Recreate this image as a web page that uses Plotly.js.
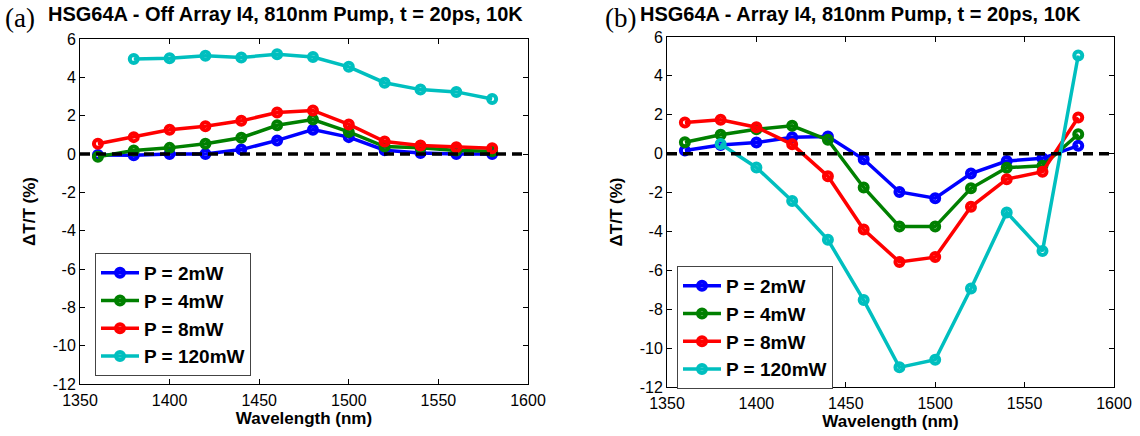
<!DOCTYPE html>
<html>
<head>
<meta charset="utf-8">
<script src="https://cdn.plot.ly/plotly-3.0.1.min.js"></script>
<style>html,body{margin:0;padding:0;background:#fff}#chart{width:1140px;height:436px}</style>
</head>
<body>
<div id="chart"></div>
<script>
// ---- data ----
const wavelength = [1360, 1380, 1400, 1420, 1440, 1460, 1480, 1500, 1520, 1540, 1560, 1580];
const seriesNames = ["P = 2mW", "P = 4mW", "P = 8mW", "P = 120mW"];

// (a) Off Array I4
const offP2   = [-0.05, -0.07, 0.0, 0.0, 0.23, 0.71, 1.27, 0.88, 0.2, 0.05, 0.0, 0.0];
const offP4   = [-0.14, 0.18, 0.32, 0.53, 0.85, 1.5, 1.8, 1.15, 0.39, 0.32, 0.18, 0.14];
const offP8   = [0.53, 0.88, 1.27, 1.45, 1.73, 2.16, 2.27, 1.54, 0.65, 0.44, 0.35, 0.3];
const offP120 = [null, 4.96, 5.0, 5.13, 5.04, 5.2, 5.06, 4.55, 3.72, 3.36, 3.24, 2.87];

// (b) Array I4
const onP2   = [0.16, 0.45, 0.57, 0.84, 0.88, -0.29, -1.97, -2.29, -1.02, -0.38, -0.24, 0.41];
const onP4   = [0.59, 0.97, 1.26, 1.43, 0.71, -1.74, -3.75, -3.75, -1.78, -0.72, -0.62, 1.0];
const onP8   = [1.6, 1.74, 1.36, 0.48, -1.16, -3.9, -5.57, -5.32, -2.73, -1.31, -0.93, 1.86];
const onP120 = [null, 0.5, -0.71, -2.43, -4.43, -7.53, -10.99, -10.6, -6.94, -3.02, -5.01, 5.05];

const yTicks = [6, 4, 2, 0, -2, -4, -6, -8, -10, -12];
const xTicks = [1350, 1400, 1450, 1500, 1550, 1600];

const colors = ["#0000FF", "#008000", "#FF0000", "#00BFBF"];

const leftSeries = [offP2, offP4, offP8, offP120];
const rightSeries = [onP2, onP4, onP8, onP120];

const traces = [];
function addTraces(seriesList, xa, ya, legendId) {
  seriesList.forEach((ys, i) => {
    traces.push({
      type: "scatter", mode: "lines+markers",
      x: wavelength, y: ys, xaxis: xa, yaxis: ya,
      name: seriesNames[i], legend: legendId, legendgroup: legendId + i,
      line: {color: colors[i], width: 3.5},
      marker: {symbol: "circle-open", size: 8, color: colors[i], line: {color: colors[i], width: 4}},
      connectgaps: false
    });
  });
}
addTraces(leftSeries, "x", "y", "legend");
addTraces(rightSeries, "x2", "y2", "legend2");

const tickFont = {family: "Liberation Sans, Arial, sans-serif", size: 16, color: "#000"};
const titleFont = {family: "Liberation Sans, Arial, sans-serif", size: 17, color: "#000", weight: "bold"};

function xAxis(domain, anchor) {
  return {
    domain: domain, anchor: anchor, range: [1350, 1600],
    tickvals: xTicks, ticktext: xTicks.map(String),
    ticks: "inside", ticklen: 5, tickwidth: 1, tickcolor: "#000",
    showline: true, linecolor: "#000", linewidth: 1, mirror: "ticks",
    showgrid: false, zeroline: false, tickfont: tickFont, ticklabelstandoff: 2,
    title: {text: "Wavelength (nm)", font: titleFont, standoff: 3},
    automargin: false
  };
}
function yAxis(domain, anchor) {
  return {
    domain: domain, anchor: anchor, range: [-12, 6],
    tickvals: yTicks, ticktext: yTicks.map(String),
    ticks: "inside", ticklen: 5, tickwidth: 1, tickcolor: "#000",
    showline: true, linecolor: "#000", linewidth: 1, mirror: "ticks",
    showgrid: false, zeroline: false, tickfont: tickFont,
    title: {text: "ΔT/T (%)", font: titleFont, standoff: 12},
    automargin: false
  };
}

const W = 1140, H = 436;
const legendFont = {family: "Liberation Sans, Arial, sans-serif", size: 19, color: "#000", weight: "bold"};

const layout = {
  width: W, height: H,
  margin: {l: 0, r: 0, t: 0, b: 0},
  paper_bgcolor: "#fff", plot_bgcolor: "#fff",
  xaxis: xAxis([80 / W, 528 / W], "y"),
  yaxis: yAxis([1 - 384 / H, 1 - 39 / H], "x"),
  xaxis2: xAxis([667 / W, 1114 / W], "y2"),
  yaxis2: yAxis([1 - 387 / H, 1 - 37 / H], "x2"),
  legend: {
    x: 95 / W, y: 1 - 253 / H, xanchor: "left", yanchor: "top",
    bgcolor: "#fff", bordercolor: "#444", borderwidth: 1,
    font: legendFont, tracegroupgap: 0, itemwidth: 38
  },
  legend2: {
    x: 677 / W, y: 1 - 266 / H, xanchor: "left", yanchor: "top",
    bgcolor: "#fff", bordercolor: "#444", borderwidth: 1,
    font: legendFont, tracegroupgap: 0, itemwidth: 38
  },
  shapes: [
    {type: "line", xref: "x domain", yref: "y", x0: 0, x1: 1, y0: 0, y1: 0,
     line: {color: "#000", width: 3.5, dash: "10px,6px"}, layer: "above"},
    {type: "line", xref: "x2 domain", yref: "y2", x0: 0, x1: 1, y0: 0, y1: 0,
     line: {color: "#000", width: 3.5, dash: "10px,6px"}, layer: "above"}
  ],
  annotations: [
    {text: "HSG64A - Off Array I4, 810nm Pump, t = 20ps, 10K", xref: "paper", yref: "paper",
     x: 285 / W, y: 1 - 14 / H, xanchor: "center", yanchor: "middle", showarrow: false,
     font: {family: "Liberation Sans Narrow, Arial Narrow, Liberation Sans, sans-serif", size: 20, color: "#000", weight: "bold"}},
    {text: "HSG64A - Array I4, 810nm Pump, t = 20ps, 10K", xref: "paper", yref: "paper",
     x: 860 / W, y: 1 - 14 / H, xanchor: "center", yanchor: "middle", showarrow: false,
     font: {family: "Liberation Sans Narrow, Arial Narrow, Liberation Sans, sans-serif", size: 20, color: "#000", weight: "bold"}},
    {text: "(a)", xref: "paper", yref: "paper", x: 20 / W, y: 1 - 18 / H,
     xanchor: "center", yanchor: "middle", showarrow: false,
     font: {family: "Liberation Serif, DejaVu Serif, serif", size: 27, color: "#000"}},
    {text: "(b)", xref: "paper", yref: "paper", x: 620 / W, y: 1 - 18 / H,
     xanchor: "center", yanchor: "middle", showarrow: false,
     font: {family: "Liberation Serif, DejaVu Serif, serif", size: 27, color: "#000"}}
  ],
  showlegend: true
};

Plotly.newPlot("chart", traces, layout, {staticPlot: true, displayModeBar: false});
</script>
</body>
</html>
